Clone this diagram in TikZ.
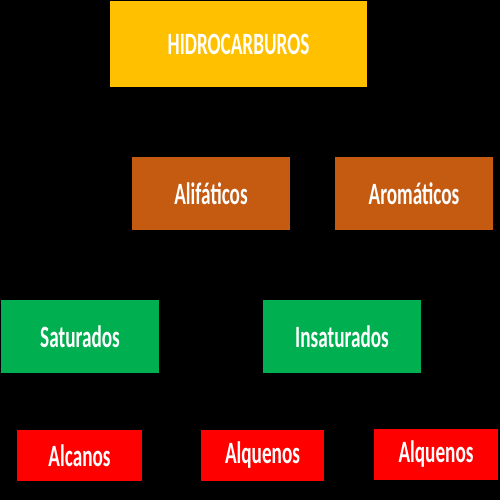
\documentclass[tikz,border=0pt]{standalone}
\usepackage{fontspec}
\setmainfont{Carlito}[FakeStretch=0.62]
\definecolor{cYellow}{HTML}{FFC000}
\definecolor{cBrown}{HTML}{C55A11}
\definecolor{cGreen}{HTML}{00B050}
\definecolor{cRed}{HTML}{FF0000}
\tikzset{
  box/.style={rectangle, inner sep=0pt, text=white, font=\bfseries\fontsize{31}{31}\selectfont, anchor=center},
}
\begin{document}
\begin{tikzpicture}[x=1pt,y=-1pt]
\fill[black] (0,0) rectangle (500,500);
\useasboundingbox (0,0) rectangle (500,500);
\node[box, fill=cYellow, minimum width=257pt, minimum height=86pt] (hid) at (238.5,44) {HIDROCARBUROS};
\node[box, fill=cBrown, minimum width=158pt, minimum height=73pt] (ali) at (211,193.5) {Alifáticos};
\node[box, fill=cBrown, minimum width=158pt, minimum height=73pt] (aro) at (414,193.5) {Aromáticos};
\node[box, fill=cGreen, minimum width=158pt, minimum height=73pt] (sat) at (80,336.5) {Saturados};
\node[box, fill=cGreen, minimum width=158pt, minimum height=73pt] (ins) at (342,336.5) {Insaturados};
\node[box, fill=cRed, minimum width=125pt, minimum height=51pt] (alc) at (79.5,455.5) {Alcanos};
\node[box, fill=cRed, minimum width=123pt, minimum height=51pt] (alq1) at (262.5,455.5) {Alquenos};
\node[box, fill=cRed, minimum width=124pt, minimum height=51pt] (alq2) at (436,454.5) {Alquenos};
\end{tikzpicture}
\end{document}
